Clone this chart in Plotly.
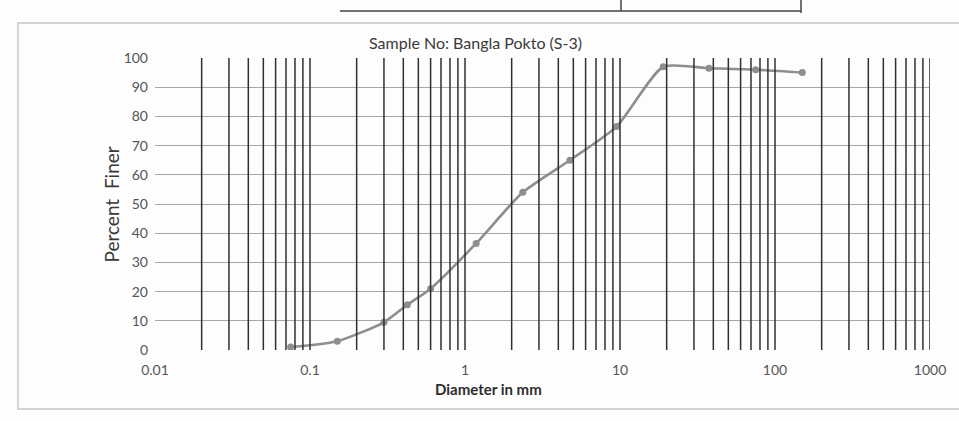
import numpy as np
import plotly.graph_objects as go

# Sieve analysis: grain diameter (mm) vs. cumulative percent finer
diameter_mm = [0.075, 0.15, 0.3, 0.425, 0.6, 1.18, 2.36, 4.75, 9.5, 19, 37.5, 75, 150]
percent_finer = [1, 3, 9.5, 15.5, 21, 36.5, 54, 65, 76.5, 97, 96.5, 96, 95]

x_tick_vals = [0.01, 0.1, 1, 10, 100, 1000]
x_tick_text = ["0.01", "0.1", "1", "10", "100", "1000"]
y_tick_vals = list(range(0, 101, 10))
y_tick_text = [str(v) for v in y_tick_vals]

title_text = "Sample No: Bangla Pokto (S-3)"
x_title = "Diameter in mm"
y_title = "Percent  Finer"

W, H = 959, 421
L, R, T, B = 155, 29, 58, 71
plot_w = W - L - R
plot_h = H - T - B


def px(xpix):
    return (xpix - L) / plot_w


def py(ypix):
    return (H - B - ypix) / plot_h


FONT = "Lato, Open Sans, sans-serif"

fig = go.Figure()

fig.add_trace(go.Scatter(
    x=diameter_mm, y=percent_finer,
    mode="lines+markers",
    line=dict(color="#8e8e8e", width=2.6, shape="spline", smoothing=0.6),
    marker=dict(color="#8e8e8e", size=7),
    showlegend=False,
))

shapes = []
# log-paper vertical rulings: 2..9 within every decade plus decade lines
for d in range(-2, 3):
    for m in range(2, 11):
        v = m * 10.0 ** d
        shapes.append(dict(type="line", xref="x", yref="paper",
                           x0=v, x1=v, y0=0, y1=1,
                           line=dict(color="#303030", width=1.5), layer="above"))

# page frame around the chart area
fx0, fx1, fy0, fy1 = px(18), px(975), py(409), py(23)
shapes.append(dict(type="rect", xref="paper", yref="paper",
                   x0=fx0, x1=fx1, y0=fy0, y1=fy1,
                   line=dict(color="#c8c8c8", width=1.5), layer="below"))
# edge of the table printed above the chart
shapes.append(dict(type="line", xref="paper", yref="paper",
                   x0=px(340), x1=px(801), y0=py(11), y1=py(11),
                   line=dict(color="#444", width=1.5)))
shapes.append(dict(type="line", xref="paper", yref="paper",
                   x0=px(621), x1=px(621), y0=py(0), y1=py(11),
                   line=dict(color="#444", width=1.5)))
shapes.append(dict(type="line", xref="paper", yref="paper",
                   x0=px(801), x1=px(801), y0=py(0), y1=py(13),
                   line=dict(color="#444", width=1.5)))

annotations = [
    dict(text=title_text, x=px(475), y=py(31), xref="paper", yref="paper",
         showarrow=False, font=dict(family=FONT, size=16, color="#3a3a3a")),
    dict(text=x_title, x=px(488), y=py(400), xref="paper", yref="paper",
         showarrow=False, font=dict(family=FONT, size=15, color="#2e2e2e", weight="bold")),
    dict(text=y_title, x=px(97), y=py(205), xref="paper", yref="paper",
         showarrow=False, textangle=-90,
         font=dict(family=FONT, size=19, color="#3a3a3a")),
]

fig.update_layout(
    width=W, height=H,
    margin=dict(l=L, r=R, t=T, b=B, pad=0),
    paper_bgcolor="#fdfdfd",
    plot_bgcolor="#fdfdfd",
    shapes=shapes,
    annotations=annotations,
    xaxis=dict(
        type="log", range=[np.log10(0.01), np.log10(1000)],
        tickvals=x_tick_vals, ticktext=x_tick_text,
        showgrid=False, zeroline=False, showline=False, ticks="",
        tickfont=dict(family=FONT, size=14, color="#555"),
        ticklabelstandoff=10,
    ),
    yaxis=dict(
        range=[0, 100], tickvals=y_tick_vals, ticktext=y_tick_text,
        showgrid=True, gridcolor="rgba(95,95,95,0.55)", gridwidth=1,
        zeroline=False, showline=False, ticks="",
        tickfont=dict(family=FONT, size=14, color="#555"),
        ticklabelstandoff=6,
    ),
)

fig.write_html("out.html")
